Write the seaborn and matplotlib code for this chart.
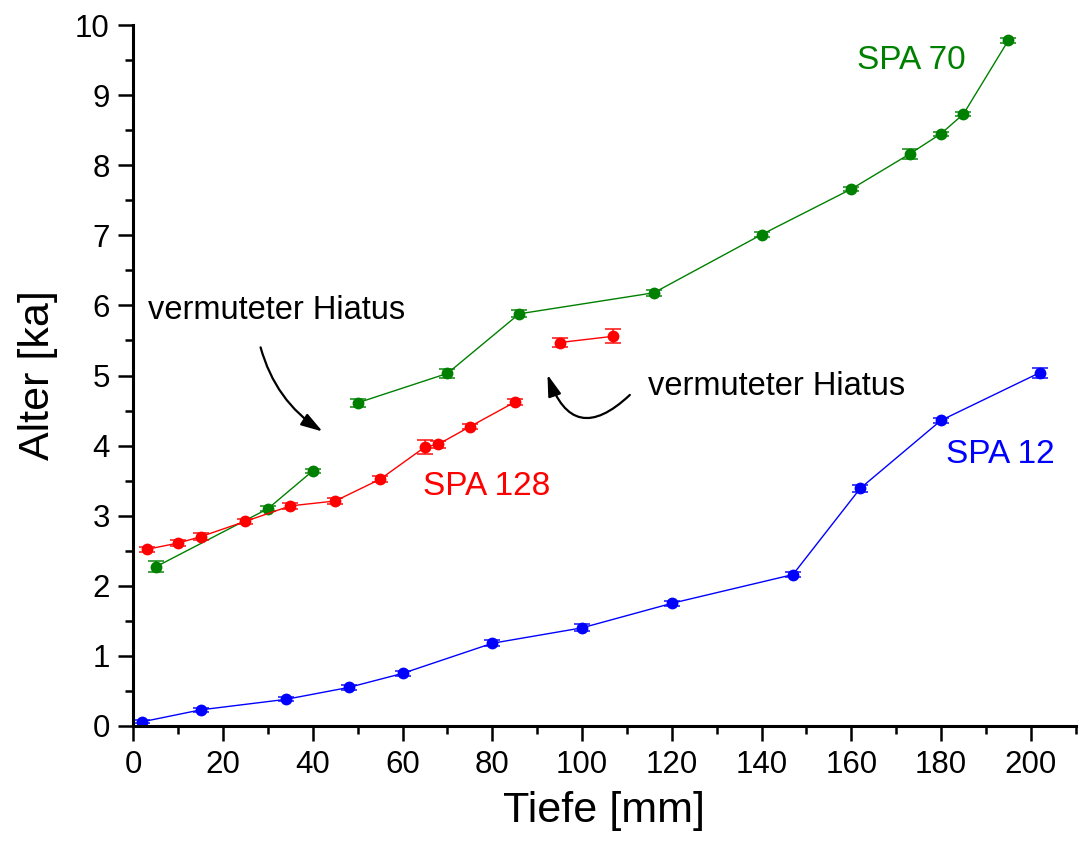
import matplotlib
matplotlib.use("Agg")
import matplotlib.pyplot as plt
import seaborn as sns
import pandas as pd
from matplotlib.patches import FancyArrowPatch
from matplotlib.ticker import MultipleLocator

# SPA 70 (gruen), zwei Abschnitte
spa70_tiefe = [5, 30, 40, 50, 70, 86, 116, 140, 160, 173, 180, 185, 195]
spa70_alter = [2.27, 3.10, 3.64, 4.61, 5.03, 5.88, 6.18, 7.01, 7.66, 8.16, 8.45, 8.73, 9.78]
spa70_fehler = [0.08, 0.04, 0.03, 0.06, 0.06, 0.05, 0.04, 0.04, 0.03, 0.07, 0.03, 0.03, 0.04]
spa70_abschnitt = [1, 1, 1, 2, 2, 2, 2, 2, 2, 2, 2, 2, 2]

# SPA 128 (rot), zwei Abschnitte
spa128_tiefe = [3, 10, 15, 25, 35, 45, 55, 65, 68, 75, 85, 95, 107]
spa128_alter = [2.52, 2.61, 2.70, 2.92, 3.14, 3.21, 3.52, 3.98, 4.02, 4.27, 4.62, 5.47, 5.56]
spa128_fehler = [0.04, 0.04, 0.05, 0.04, 0.04, 0.04, 0.04, 0.10, 0.05, 0.04, 0.04, 0.07, 0.10]
spa128_abschnitt = [1, 1, 1, 1, 1, 1, 1, 1, 1, 1, 1, 2, 2]

# SPA 12 (blau)
spa12_tiefe = [2, 15, 34, 48, 60, 80, 100, 120, 147, 162, 180, 202]
spa12_alter = [0.06, 0.23, 0.38, 0.55, 0.75, 1.18, 1.40, 1.75, 2.16, 3.39, 4.36, 5.04]
spa12_fehler = [0.02, 0.03, 0.03, 0.03, 0.03, 0.04, 0.05, 0.04, 0.04, 0.05, 0.04, 0.07]
spa12_abschnitt = [1] * len(spa12_tiefe)

kerne = {
    "SPA 70": (spa70_tiefe, spa70_alter, spa70_fehler, spa70_abschnitt, "#008000"),
    "SPA 128": (spa128_tiefe, spa128_alter, spa128_fehler, spa128_abschnitt, "#ff0000"),
    "SPA 12": (spa12_tiefe, spa12_alter, spa12_fehler, spa12_abschnitt, "#0000ff"),
}

sns.set_style("ticks")
plt.rcParams["font.family"] = ["Liberation Sans", "DejaVu Sans"]
for k in ["text.color", "axes.labelcolor", "xtick.color", "ytick.color", "axes.edgecolor"]:
    plt.rcParams[k] = "black"

fig = plt.figure(figsize=(10.83, 8.51), dpi=100)
ax = fig.add_axes([0.1231, 0.1469, 0.8701, 0.8237])

for name, (tiefe, alter, fehler, abschnitt, farbe) in kerne.items():
    df = pd.DataFrame({"Tiefe": tiefe, "Alter": alter, "Fehler": fehler, "Abschnitt": abschnitt})
    sns.lineplot(data=df, x="Tiefe", y="Alter", units="Abschnitt", estimator=None,
                 sort=False, color=farbe, marker="o", markersize=8.5,
                 markeredgewidth=0, linewidth=1.0, ax=ax, legend=False)
    ax.errorbar(df["Tiefe"], df["Alter"], yerr=df["Fehler"], fmt="none",
                ecolor=farbe, elinewidth=1.2, capsize=5.5, capthick=1.3, alpha=0.8)

ax.set_xlim(0, 210)
ax.set_ylim(0, 10)
ax.xaxis.set_major_locator(MultipleLocator(20))
ax.xaxis.set_minor_locator(MultipleLocator(10))
ax.yaxis.set_major_locator(MultipleLocator(1))
ax.yaxis.set_minor_locator(MultipleLocator(0.5))
ax.tick_params(which="major", length=11, width=1.8, labelsize=22.5, pad=6)
ax.tick_params(which="minor", length=5.5, width=1.8)
for s in ["left", "bottom"]:
    ax.spines[s].set_linewidth(2.2)
sns.despine(ax=ax)

ax.set_xlabel("Tiefe [mm]", fontsize=31, labelpad=8)
ax.set_ylabel("Alter [ka]", fontsize=31, labelpad=12)

ax.text(161.3, 9.50, "SPA 70", color="#008000", fontsize=24, va="center", ha="left")
ax.text(64.6, 3.42, "SPA 128", color="#ff0000", fontsize=24, va="center", ha="left")
ax.text(181.1, 3.87, "SPA 12", color="#0000ff", fontsize=24, va="center", ha="left")
ax.text(3.3, 5.93, "vermuteter Hiatus", color="black", fontsize=23.5, va="center", ha="left")
ax.text(114.7, 4.84, "vermuteter Hiatus", color="black", fontsize=23.5, va="center", ha="left")

pfeil1 = FancyArrowPatch((28.2, 5.44), (42.7, 4.18), connectionstyle="arc3,rad=0.2",
                         arrowstyle="-|>,head_length=13,head_width=4", color="black",
                         linewidth=1.6, mutation_scale=1)
pfeil2 = FancyArrowPatch((111.1, 4.75), (92.1, 5.05), connectionstyle="arc3,rad=-0.8",
                         arrowstyle="-|>,head_length=13,head_width=4", color="black",
                         linewidth=1.6, mutation_scale=1)
ax.add_patch(pfeil1)
ax.add_patch(pfeil2)

fig.savefig("out.png", dpi=100)
